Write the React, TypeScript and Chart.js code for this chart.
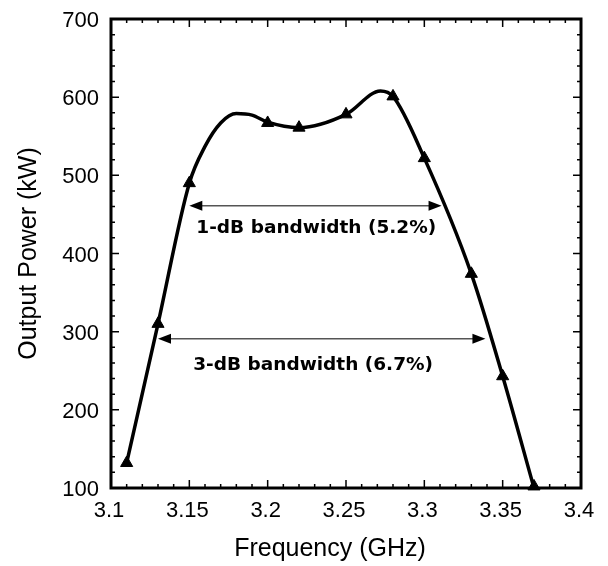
import React, { useEffect, useRef } from "react";
import { Chart, registerables } from "chart.js";

Chart.register(...registerables);

// ---- data ----
const markerFreq = [3.11, 3.13, 3.15, 3.2, 3.22, 3.25, 3.28, 3.3, 3.33, 3.35, 3.37];
const markerPower = [132, 310, 490, 567, 561, 578, 601, 522, 374, 243, 102];

const curveFreq = [3.11, 3.13, 3.15, 3.16, 3.17, 3.18, 3.19, 3.2, 3.22, 3.25, 3.272, 3.28, 3.3, 3.33, 3.35, 3.37];
const curvePower = [132, 310, 490, 537, 567, 579, 577, 568, 561, 578, 608, 601, 522, 374, 243, 100];

const xTickValues = [3.1, 3.15, 3.2, 3.25, 3.3, 3.35, 3.4];
const xTickLabels = ["3.1", "3.15", "3.2", "3.25", "3.3", "3.35", "3.4"];
const yTickValues = [100, 200, 300, 400, 500, 600, 700];
const yTickLabels = ["100", "200", "300", "400", "500", "600", "700"];

const xTitle = "Frequency (GHz)";
const yTitle = "Output Power (kW)";

// bandwidth arrows: [fromFreq, toFreq, power]
const arrowFrom = [3.15, 3.13];
const arrowTo = [3.311, 3.339];
const arrowPower = [461, 291];
const bwLabels = ["1-dB bandwidth (5.2%)", "3-dB bandwidth (6.7%)"];
const bwLabelFreq = [3.231, 3.229];
const bwLabelPower = [433, 257];

const X_MIN = 3.1, X_MAX = 3.4, Y_MIN = 100, Y_MAX = 700;

const decorPlugin = {
  id: "decor",
  afterDraw(chart: any) {
    const { ctx, chartArea } = chart;
    const xs = chart.scales.x;
    const ys = chart.scales.y;
    const { left, right, top, bottom } = chartArea;
    ctx.save();

    // arrows
    for (let i = 0; i < arrowFrom.length; i++) {
      const x1 = xs.getPixelForValue(arrowFrom[i]);
      const x2 = xs.getPixelForValue(arrowTo[i]);
      const y = ys.getPixelForValue(arrowPower[i]);
      const head = 13, hw = 5;
      ctx.strokeStyle = "#555";
      ctx.lineWidth = 1.5;
      ctx.beginPath();
      ctx.moveTo(x1 + head - 2, y);
      ctx.lineTo(x2 - head + 2, y);
      ctx.stroke();
      ctx.fillStyle = "#000";
      ctx.beginPath();
      ctx.moveTo(x1, y);
      ctx.lineTo(x1 + head, y - hw);
      ctx.lineTo(x1 + head, y + hw);
      ctx.closePath();
      ctx.fill();
      ctx.beginPath();
      ctx.moveTo(x2, y);
      ctx.lineTo(x2 - head, y - hw);
      ctx.lineTo(x2 - head, y + hw);
      ctx.closePath();
      ctx.fill();
    }

    // bandwidth labels
    ctx.fillStyle = "#000";
    ctx.font = "bold 18.5px 'DejaVu Sans', Verdana, sans-serif";
    ctx.textAlign = "center";
    ctx.textBaseline = "middle";
    for (let i = 0; i < bwLabels.length; i++) {
      ctx.fillText(bwLabels[i], xs.getPixelForValue(bwLabelFreq[i]), ys.getPixelForValue(bwLabelPower[i]));
    }

    // frame
    ctx.strokeStyle = "#000";
    ctx.lineWidth = 3;
    ctx.strokeRect(left, top, right - left, bottom - top);

    // ticks (inward, all sides)
    ctx.lineWidth = 1.5;
    ctx.beginPath();
    for (let k = 0; k <= 30; k++) {
      const v = X_MIN + k * 0.01;
      const px = xs.getPixelForValue(v);
      const len = k % 5 === 0 ? 8 : 4;
      ctx.moveTo(px, bottom);
      ctx.lineTo(px, bottom - len);
      ctx.moveTo(px, top);
      ctx.lineTo(px, top + len);
    }
    for (let k = 0; k <= 30; k++) {
      const v = Y_MIN + k * 20;
      const py = ys.getPixelForValue(v);
      const len = k % 5 === 0 ? 8 : 4;
      ctx.moveTo(left, py);
      ctx.lineTo(left + len, py);
      ctx.moveTo(right, py);
      ctx.lineTo(right - len, py);
    }
    ctx.stroke();

    // tick labels
    ctx.fillStyle = "#000";
    ctx.font = "22px 'Liberation Sans', Arial, sans-serif";
    ctx.textBaseline = "alphabetic";
    ctx.textAlign = "center";
    for (let i = 0; i < xTickValues.length; i++) {
      ctx.fillText(xTickLabels[i], xs.getPixelForValue(xTickValues[i]) - 2, bottom + 29);
    }
    ctx.textAlign = "right";
    for (let i = 0; i < yTickValues.length; i++) {
      ctx.fillText(yTickLabels[i], left - 12, ys.getPixelForValue(yTickValues[i]) + 8);
    }

    // axis titles
    ctx.font = "25px 'Liberation Sans', Arial, sans-serif";
    ctx.textAlign = "center";
    ctx.textBaseline = "alphabetic";
    ctx.fillText(xTitle, (left + right) / 2 - 16, bottom + 68);
    ctx.save();
    ctx.translate(36, (top + bottom) / 2);
    ctx.rotate(-Math.PI / 2);
    ctx.fillText(yTitle, 0, 0);
    ctx.restore();

    ctx.restore();
  },
};

export default function App() {
  const ref = useRef<HTMLCanvasElement | null>(null);
  useEffect(() => {
    if (!ref.current) return;
    const chart = new Chart(ref.current, {
      type: "line",
      data: {
        datasets: [
          {
            label: "curve",
            data: curveFreq.map((f, i) => ({ x: f, y: curvePower[i] })),
            borderColor: "#000",
            borderWidth: 3.5,
            pointRadius: 0,
            cubicInterpolationMode: "monotone",
            fill: false,
          },
          {
            label: "measured",
            data: markerFreq.map((f, i) => ({ x: f, y: markerPower[i] })),
            showLine: false,
            pointStyle: "triangle",
            pointRadius: 7,
            pointBackgroundColor: "#000",
            pointBorderColor: "#000",
            pointBorderWidth: 1,
            clip: false,
          },
        ],
      } as any,
      options: {
        animation: false,
        responsive: false,
        maintainAspectRatio: false,
        layout: { padding: { left: 0, right: 27, top: 19, bottom: 0 } },
        plugins: { legend: { display: false }, tooltip: { enabled: false } },
        scales: {
          x: {
            type: "linear",
            min: X_MIN,
            max: X_MAX,
            grid: { display: false, drawTicks: false },
            border: { display: false },
            ticks: { display: false },
            afterFit: (s: any) => { s.height = 78; },
          },
          y: {
            type: "linear",
            min: Y_MIN,
            max: Y_MAX,
            grid: { display: false, drawTicks: false },
            border: { display: false },
            ticks: { display: false },
            afterFit: (s: any) => { s.width = 111; },
          },
        },
      } as any,
      plugins: [decorPlugin],
    });
    return () => chart.destroy();
  }, []);
  return (
    <div style={{ position: "fixed", left: 0, top: 0, width: 608, height: 566, background: "#fff" }}>
      <canvas ref={ref} width={608} height={566} style={{ width: 608, height: 566, display: "block" }} />
    </div>
  );
}
